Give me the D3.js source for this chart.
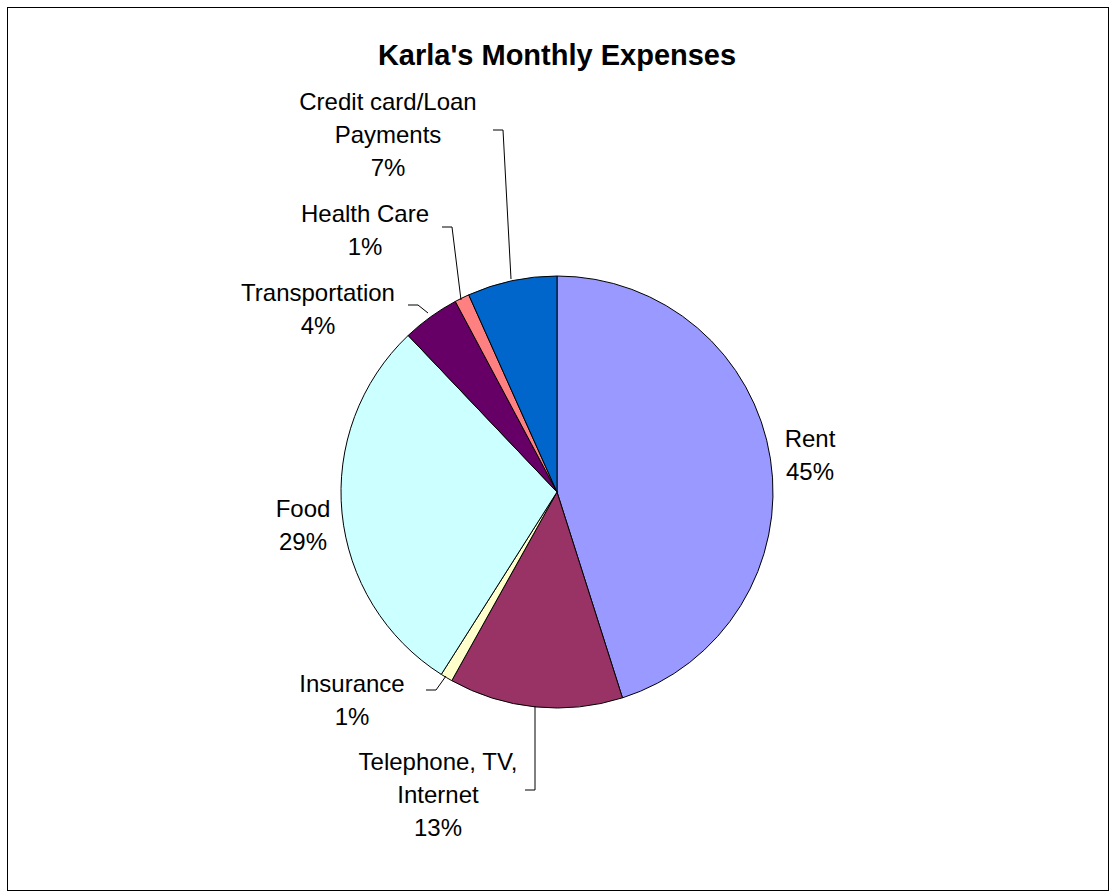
<!DOCTYPE html>
<html><head><meta charset="utf-8">
<script src="https://cdn.jsdelivr.net/npm/d3@7"></script>
<style>body{margin:0;background:#fff}svg{display:block}text{font-family:Arial,"Liberation Sans",sans-serif}</style>
</head><body>
<script>
const categories = ["Rent","Telephone, TV, Internet","Insurance","Food","Transportation","Health Care","Credit card/Loan Payments"];
const values = [45.1, 13.0, 0.9, 28.9, 4.3, 1.1, 6.7];
const pctLabels = ["45%","13%","1%","29%","4%","1%","7%"];
const colors = ["#9999FF","#993366","#FFFFCC","#CCFFFF","#660066","#FF8080","#0066CC"];
const labelLines = [["Rent","45%"],["Telephone, TV,","Internet","13%"],["Insurance","1%"],["Food","29%"],["Transportation","4%"],["Health Care","1%"],["Credit card/Loan","Payments","7%"]];
const labelPos = [[810,447],[438,770],[352,692],[303,517],[318,301],[365,222],[388,110]];
const leaders = [null,[[535,706],[535,790],[525,790]],[[446,676],[436,690],[426,690]],null,[[428,313],[418,305],[408,305]],[[461,300],[452,227],[442,227]],[[511,279],[503,130],[493,130]]];

const W=1116,H=896,cx=557,cy=492,R=216;
const svg=d3.select("body").append("svg").attr("width",W).attr("height",H);
svg.append("rect").attr("x",7.5).attr("y",7.5).attr("width",1101).attr("height",883).attr("fill","#fff").attr("stroke","#000");
svg.append("text").attr("x",557).attr("y",65).attr("text-anchor","middle").attr("font-size",29).attr("font-weight","bold").text("Karla's Monthly Expenses");
const pie=d3.pie().sort(null).value(d=>d)(values);
const arc=d3.arc().innerRadius(0).outerRadius(R);
const g=svg.append("g").attr("transform",`translate(${cx},${cy})`);
g.selectAll("path").data(pie).join("path").attr("d",arc).attr("fill",(d,i)=>colors[i]).attr("stroke","#000").attr("stroke-width",1);
leaders.forEach(l=>{ if(l) svg.append("polyline").attr("points",l.map(p=>p.join(",")).join(" ")).attr("fill","none").attr("stroke","#000").attr("stroke-width",1);});
labelLines.forEach((ls,i)=>{
  const t=svg.append("text").attr("text-anchor","middle").attr("font-size",24);
  ls.forEach((s,j)=>t.append("tspan").attr("x",labelPos[i][0]).attr("y",labelPos[i][1]+j*33).text(s));
});
</script>
</body></html>
